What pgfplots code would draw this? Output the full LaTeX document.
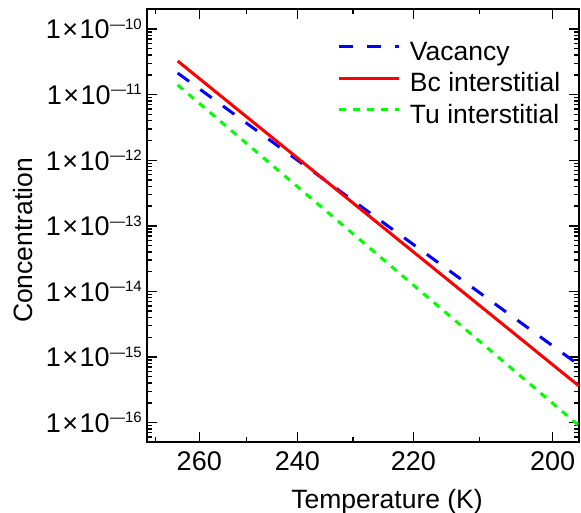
\documentclass[border=0pt]{standalone}
\usepackage{fontspec}
\setmainfont{Liberation Sans}
\usepackage{pgfplots}
\usepackage{pgfplotstable}
\pgfplotsset{compat=1.18}
\usetikzlibrary{calc}

\definecolor{mblue}{RGB}{0,0,255}
\definecolor{mred}{RGB}{255,0,0}
\definecolor{mgreen}{RGB}{0,255,0}

% concentrations at the ends of each (Arrhenius) line, T in K
\pgfplotstableread{
T conc
264.85 2.13e-11
196.62 7.55e-16
}\vacancy
\pgfplotstableread{
T conc
264.85 3.25e-11
196.62 3.61e-16
}\bcint
\pgfplotstableread{
T conc
264.85 1.40e-11
196.62 8.97e-17
}\tuint

\begin{document}
\begin{tikzpicture}
\begin{axis}[
    scale only axis,
    width=432pt, height=433pt,
    xmin=3.6755, xmax=5.0859,
    ymode=log, log basis y=10,
    ymin=5.06e-17, ymax=2.02e-10,
    xtick={3.846154,4.166667,4.545455,5},
    xticklabels={260,240,220,200},
    ytick={1e-16,1e-15,1e-14,1e-13,1e-12,1e-11,1e-10},
    yticklabel={1\kern1.5pt×\kern1.5pt10\kern0.5pt\raisebox{9.5pt}{\fontsize{15}{15}\selectfont —\pgfmathparse{int(round(-\tick))}\pgfmathresult}},
    extra x ticks={3.703704,4,4.347826,4.761905},
    extra x tick labels={},
    extra x tick style={major tick length=5pt},
    extra y ticks={6e-17,7e-17,8e-17,9e-17,
        2e-16,3e-16,4e-16,5e-16,6e-16,7e-16,8e-16,9e-16,
        2e-15,3e-15,4e-15,5e-15,6e-15,7e-15,8e-15,9e-15,
        2e-14,3e-14,4e-14,5e-14,6e-14,7e-14,8e-14,9e-14,
        2e-13,3e-13,4e-13,5e-13,6e-13,7e-13,8e-13,9e-13,
        2e-12,3e-12,4e-12,5e-12,6e-12,7e-12,8e-12,9e-12,
        2e-11,3e-11,4e-11,5e-11,6e-11,7e-11,8e-11,9e-11},
    extra y tick labels={},
    extra y tick style={major tick length=5pt},
    axis line style={line width=1.2pt},
    tick align=inside,
    major tick style={draw=black, line width=1.4pt},
    major tick length=10pt,
    tick label style={font=\fontsize{27}{30}\selectfont, inner sep=0pt},
    yticklabel style={xshift=-5pt},
    xticklabel style={yshift=-9.5pt},
    label style={font=\fontsize{26.5}{30}\selectfont},
    xlabel={Temperature (K)},
    ylabel={Concentration},
    xlabel style={at={(axis description cs:0.5556,-0.1531)}, anchor=base, inner sep=0pt},
    ylabel style={at={(axis description cs:-0.2863,0.4654)}, anchor=center, inner sep=0pt},
    legend style={at={(axis description cs:0.4421,0.9261)}, anchor=north west,
        draw=none, fill=none, inner sep=0pt, outer sep=0pt,
        font=\fontsize{26.5}{30}\selectfont,
        nodes={inner sep=0pt, text height=19pt, text depth=6pt},
        row sep=6.5pt, column sep=9pt},
    legend cell align=left,
    legend image code/.code={\draw[#1] (0pt,7pt) -- (60pt,7pt);},
]
\addplot[mblue, line width=3pt, dash pattern=on 14pt off 14pt]
    table[x expr=1000/\thisrow{T}, y=conc] {\vacancy};
\addlegendentry{Vacancy}
\addplot[mred, line width=3pt]
    table[x expr=1000/\thisrow{T}, y=conc] {\bcint};
\addlegendentry{Bc interstitial}
\addplot[mgreen, line width=3pt, dash pattern=on 7pt off 7pt]
    table[x expr=1000/\thisrow{T}, y=conc] {\tuint};
\addlegendentry{Tu interstitial}
\end{axis}
\pgfresetboundingbox
\path ($(current axis.south west)+(-147pt,-71pt)$) rectangle ($(current axis.north east)+(2pt,9pt)$);
\end{tikzpicture}
\end{document}
